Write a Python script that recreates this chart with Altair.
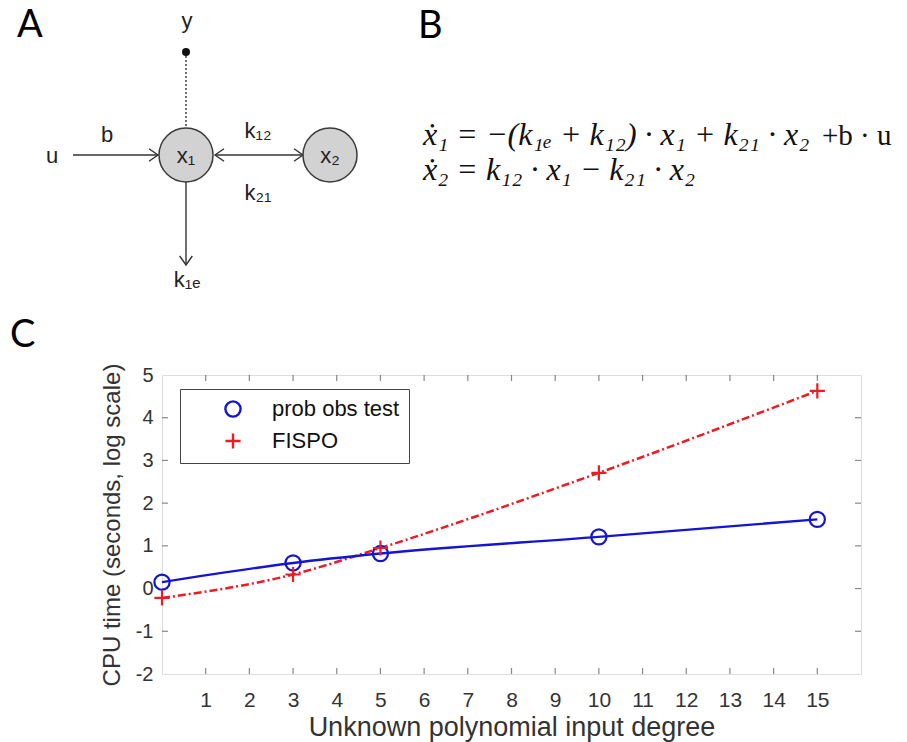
import altair as alt
import pandas as pd

# ---------------- Panel C: data ----------------
degrees = [0, 3, 5, 10, 15]
prob_obs_test = [0.15, 0.60, 0.82, 1.21, 1.62]
fispo = [-0.22, 0.33, 0.95, 2.71, 4.63]
series_names = ["prob obs test", "FISPO"]
x_label_values = list(range(1, 16))
y_label_values = [-2, -1, 0, 1, 2, 3, 4, 5]
y_inner_ticks = [-1, 0, 1, 2, 3, 4]
x_domain = [0, 16]
y_domain = [-2, 5]
x_title = "Unknown polynomial input degree"
y_title = "CPU time (seconds, log scale)"

# ---------------- Panel B: equations ----------------
eq_line1 = "x\u0307\u2081 = \u2212(k\u2081\u2091 + k\u2081\u2082) \u00b7 x\u2081 + k\u2082\u2081 \u00b7 x\u2082"
eq_line1_tail = "+b \u00b7 u"
eq_line2 = "x\u0307\u2082 = k\u2081\u2082 \u00b7 x\u2081 \u2212 k\u2082\u2081 \u00b7 x\u2082"
panel_letters = ["A", "B", "C"]

# ---------------- Panel A: schematic (drawing units of the figure) ----------------
node_labels = ["x\u2081", "x\u2082"]
node_x = [186, 330]
node_y = [155, 155]
edge_x = [73, 215, 186]
edge_y = [155, 155, 182]
edge_x2 = [158, 303, 186]
edge_y2 = [155, 155, 265]
head_x = [158, 303, 215, 186]
head_y = [155, 155, 155, 265]
head_angle = [0, 0, 180, 90]
obs_x = [186]
obs_y = [52]
obs_y2 = [127]
diagram_labels = ["y", "b", "u", "k\u2081\u2082", "k\u2082\u2081", "k\u2081\u2091"]
diagram_label_x = [187, 107, 52, 258, 258, 187]
diagram_label_y = [28, 142, 163, 138, 200, 287]
letter_x = [17, 418, 10]
letter_y = [37, 38, 347]
eq_x = [423, 423]
eq_y = [145, 180]
eq_tail_x = [822]
eq_tail_y = [145]

BLUE = "#1414d2"
RED = "#ec1c24"
FRAME = "#555555"
TXT = "#333333"
SANS = "Liberation Sans"

# ---------------- Panel C chart ----------------
df = pd.DataFrame({
    "degree": degrees * 2,
    "cpu": prob_obs_test + fispo,
    "method": [series_names[0]] * len(degrees) + [series_names[1]] * len(degrees),
})

xs = alt.Scale(domain=x_domain, nice=False, zero=False)
ys = alt.Scale(domain=y_domain, nice=False, zero=False)

x_enc = alt.X("degree:Q", scale=xs, axis=alt.Axis(
    orient="bottom", values=x_label_values, tickSize=0, domain=False, grid=False,
    labelFontSize=21, labelPadding=15, labelFlush=False, labelOverlap=False,
    labelColor=TXT, labelFont=SANS, title=x_title, titleFont=SANS,
    titleFontSize=27, titleFontWeight="normal", titleColor=TXT,
    titleBaseline="alphabetic", titleY=61))
y_enc = alt.Y("cpu:Q", scale=ys, axis=alt.Axis(
    orient="left", values=y_label_values, tickSize=0, domain=False, grid=False,
    labelFontSize=20, labelPadding=9, labelFlush=False, labelOverlap=False,
    labelExpr="'' + datum.value",
    labelColor=TXT, labelFont=SANS, title=y_title, titleFont=SANS,
    titleFontSize=24, titleFontWeight="normal", titleColor=TXT, titleX=-38))

base = alt.Chart(df)
line_blue = base.transform_filter(alt.datum.method == series_names[0]).mark_line(
    color=BLUE, strokeWidth=2.4, interpolate="monotone").encode(x=x_enc, y=y_enc)
line_red = base.transform_filter(alt.datum.method == series_names[1]).mark_line(
    color=RED, strokeWidth=2.5, strokeDash=[8, 3, 2, 3], interpolate="monotone").encode(x=x_enc, y=y_enc)

leg = alt.Legend(title=None, orient="none", legendX=18, legendY=14, direction="vertical",
                 strokeColor="#444444", fillColor="white", padding=9, symbolOffset=33,
                 labelOffset=28, labelFontSize=22, labelFont=SANS, labelColor="#111111",
                 symbolSize=230, symbolStrokeWidth=2.4, rowPadding=6, labelLimit=400)
points = base.mark_point(filled=False, strokeWidth=2.2, size=230, opacity=1).encode(
    x=x_enc, y=y_enc,
    color=alt.Color("method:N", scale=alt.Scale(domain=series_names, range=[BLUE, RED]), legend=leg),
    shape=alt.Shape("method:N", scale=alt.Scale(domain=series_names,
                    range=["circle", "M-1,0L1,0M0,-1L0,1"]), legend=leg),
)

def tick_layer(dx_vals, dy_vals, orient, xo, yo):
    d = pd.DataFrame({"degree": dx_vals, "cpu": dy_vals})
    return alt.Chart(d).mark_tick(orient=orient, size=6, thickness=1.2, color=FRAME,
                                  xOffset=xo, yOffset=yo).encode(x=x_enc, y=y_enc)

n = len(x_label_values)
m = len(y_inner_ticks)
t_bottom = tick_layer(x_label_values, [y_domain[0]] * n, "vertical", 0, -3)
t_top = tick_layer(x_label_values, [y_domain[1]] * n, "vertical", 0, 3)
t_left = tick_layer([x_domain[0]] * m, y_inner_ticks, "horizontal", 3, 0)
t_right = tick_layer([x_domain[1]] * m, y_inner_ticks, "horizontal", -3, 0)

panel_c = alt.layer(t_bottom, t_top, t_left, t_right, line_red, line_blue, points)

# ---------------- Panels A / B (drawn in figure units) ----------------
dxs = alt.Scale(domain=[0, 907], range=[-162, 745], nice=False, zero=False)
dys = alt.Scale(domain=[0, 742], range=[-375, 367], nice=False, zero=False)
PX = alt.X("px:Q", scale=dxs, axis=None)
PY = alt.Y("py:Q", scale=dys, axis=None)

edges = alt.Chart(pd.DataFrame({"px": edge_x, "py": edge_y, "px2": edge_x2, "py2": edge_y2})).mark_rule(
    color="#333333", strokeWidth=1.4).encode(x=PX, y=PY, x2="px2:Q", y2="py2:Q")
obs = alt.Chart(pd.DataFrame({"px": obs_x, "py": obs_y, "py2": obs_y2})).mark_rule(
    color="#333333", strokeWidth=1.4, strokeDash=[2, 2]).encode(x=PX, y=PY, y2="py2:Q")
obs_dot = alt.Chart(pd.DataFrame({"px": obs_x, "py": obs_y})).mark_circle(
    color="#111111", size=64, opacity=1).encode(x=PX, y=PY)
heads = alt.Chart(pd.DataFrame({"px": head_x, "py": head_y, "ang": head_angle})).mark_point(
    shape="M-1,-0.7L0,0L-1,0.7", filled=False, color="#333333", strokeWidth=1.4, size=324, opacity=1
).encode(x=PX, y=PY, angle=alt.Angle("ang:Q", scale=None))
nodes = alt.Chart(pd.DataFrame({"px": node_x, "py": node_y, "t": node_labels})).mark_circle(
    color="#d2d2d2", stroke="#3a3a3a", strokeWidth=1.5, size=2916, opacity=1).encode(x=PX, y=PY)
node_text = alt.Chart(pd.DataFrame({"px": node_x, "py": [v + 8 for v in node_y], "t": node_labels})).mark_text(
    font=SANS, fontSize=22, color="#222222", align="center", baseline="alphabetic").encode(x=PX, y=PY, text="t:N")
dlabels = alt.Chart(pd.DataFrame({"px": diagram_label_x, "py": diagram_label_y, "t": diagram_labels})).mark_text(
    font=SANS, fontSize=22, color="#222222", align="center", baseline="alphabetic").encode(x=PX, y=PY, text="t:N")
letters = alt.Chart(pd.DataFrame({"px": letter_x, "py": letter_y, "t": panel_letters})).mark_text(
    font="Lato", fontSize=38, color="#000000", align="left", baseline="alphabetic").encode(x=PX, y=PY, text="t:N")
eqs = alt.Chart(pd.DataFrame({"px": eq_x, "py": eq_y, "t": [eq_line1, eq_line2]})).mark_text(
    font="Liberation Serif", fontStyle="italic", fontSize=32, color="#111111", align="left",
    baseline="alphabetic").encode(x=PX, y=PY, text="t:N")
eq_tail = alt.Chart(pd.DataFrame({"px": eq_tail_x, "py": eq_tail_y, "t": [eq_line1_tail]})).mark_text(
    font="Liberation Serif", fontSize=29, color="#111111", align="left",
    baseline="alphabetic").encode(x=PX, y=PY, text="t:N")

diagram = alt.layer(edges, obs, heads, nodes, node_text, obs_dot, dlabels, letters, eqs, eq_tail)

chart = alt.layer(panel_c, diagram).resolve_scale(x="independent", y="independent").properties(
    width=699, height=299,
    padding={"left": 162, "top": 375, "right": 46, "bottom": 68},
    autosize=alt.AutoSizeParams(type="none"),
    background="white",
).configure_view(stroke=FRAME, strokeWidth=1.3).configure(font=SANS)

chart.save("out.html", embed_options={"renderer": "svg", "actions": False})
